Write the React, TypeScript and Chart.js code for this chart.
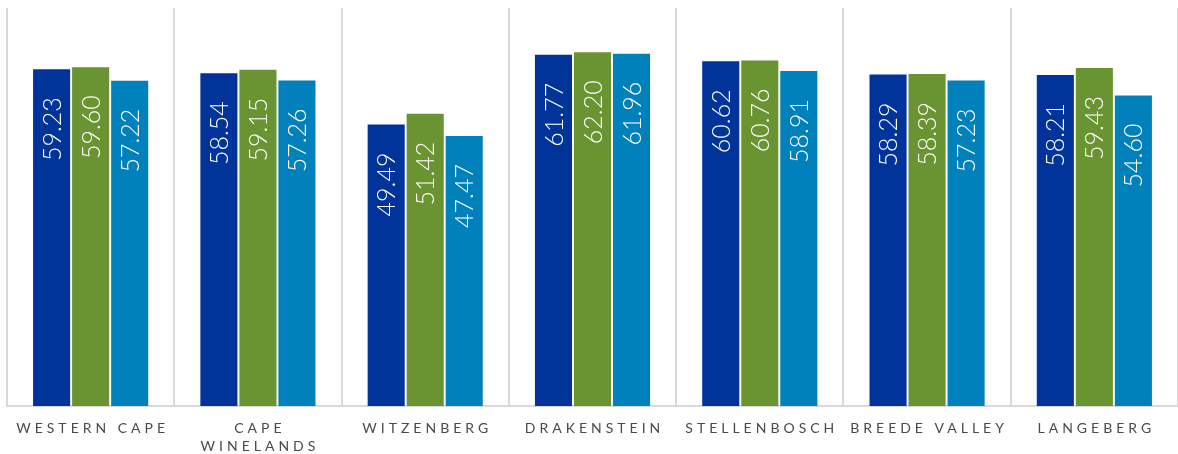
import React, { useEffect, useRef } from "react";
import { Chart, registerables } from "chart.js";

Chart.register(...registerables);

const categories: string[][] = [
  ["WESTERN CAPE"],
  ["CAPE", "WINELANDS"],
  ["WITZENBERG"],
  ["DRAKENSTEIN"],
  ["STELLENBOSCH"],
  ["BREEDE VALLEY"],
  ["LANGEBERG"],
];
const series1 = [59.23, 58.54, 49.49, 61.77, 60.62, 58.29, 58.21];
const series2 = [59.6, 59.15, 51.42, 62.2, 60.76, 58.39, 59.43];
const series3 = [57.22, 57.26, 47.47, 61.96, 58.91, 57.23, 54.6];
const seriesNames = ["Series 1", "Series 2", "Series 3"];
const colors = ["#00349a", "#6a9331", "#0081bb"];

const valueLabels = {
  id: "valueLabels",
  afterDatasetsDraw(chart: any) {
    const ctx = chart.ctx;
    ctx.save();
    ctx.fillStyle = "#ffffff";
    ctx.font = "300 25px 'Lato Light', Lato, sans-serif";
    chart.data.datasets.forEach((ds: any, di: number) => {
      const meta = chart.getDatasetMeta(di);
      meta.data.forEach((bar: any, i: number) => {
        const v = ds.data[i] as number;
        ctx.save();
        ctx.translate(bar.x, bar.y + 28);
        ctx.rotate(-Math.PI / 2);
        ctx.textAlign = "right";
        ctx.textBaseline = "middle";
        ctx.fillText(v.toFixed(2), 0, 1);
        ctx.restore();
      });
    });
    ctx.restore();
  },
};

const xLabels = {
  id: "xLabels",
  afterDraw(chart: any) {
    const ctx = chart.ctx;
    const xs = chart.scales.x;
    ctx.save();
    ctx.fillStyle = "#4a4a4a";
    ctx.font = "400 14px Lato, 'DejaVu Sans', sans-serif";
    (ctx as any).letterSpacing = "4px";
    ctx.textAlign = "left";
    ctx.textBaseline = "alphabetic";
    categories.forEach((lines, i) => {
      const cx = xs.getPixelForValue(i);
      lines.forEach((line, li) => {
        const w = ctx.measureText(line).width - 4;
        ctx.fillText(line, cx - w / 2, 433 + li * 18);
      });
    });
    ctx.restore();
  },
};

export default function App() {
  const ref = useRef<HTMLCanvasElement>(null);
  useEffect(() => {
    document.body.style.margin = "0";
    const chart = new Chart(ref.current!, {
      type: "bar",
      data: {
        labels: categories.map((c) => c.join(" ")),
        datasets: [series1, series2, series3].map((d, i) => ({
          label: seriesNames[i],
          data: d,
          backgroundColor: colors[i],
          categoryPercentage: 0.7,
          barPercentage: 0.95,
        })),
      },
      options: {
        animation: false,
        responsive: false,
        maintainAspectRatio: false,
        layout: { padding: { left: 7, right: 0, top: 8, bottom: 48 } },
        plugins: { legend: { display: false }, tooltip: { enabled: false } },
        scales: {
          x: {
            offset: true,
            grid: { display: true, offset: true, color: "#d9d9d9", lineWidth: 2, drawTicks: false },
            border: { display: true, color: "#d9d9d9", width: 2 },
            ticks: { display: false },
          },
          y: { display: false, min: 0, max: 70 },
        },
      },
      plugins: [valueLabels, xLabels],
    });
    return () => chart.destroy();
  }, []);
  return <canvas ref={ref} width={1178} height={454} style={{ display: "block" }} />;
}
